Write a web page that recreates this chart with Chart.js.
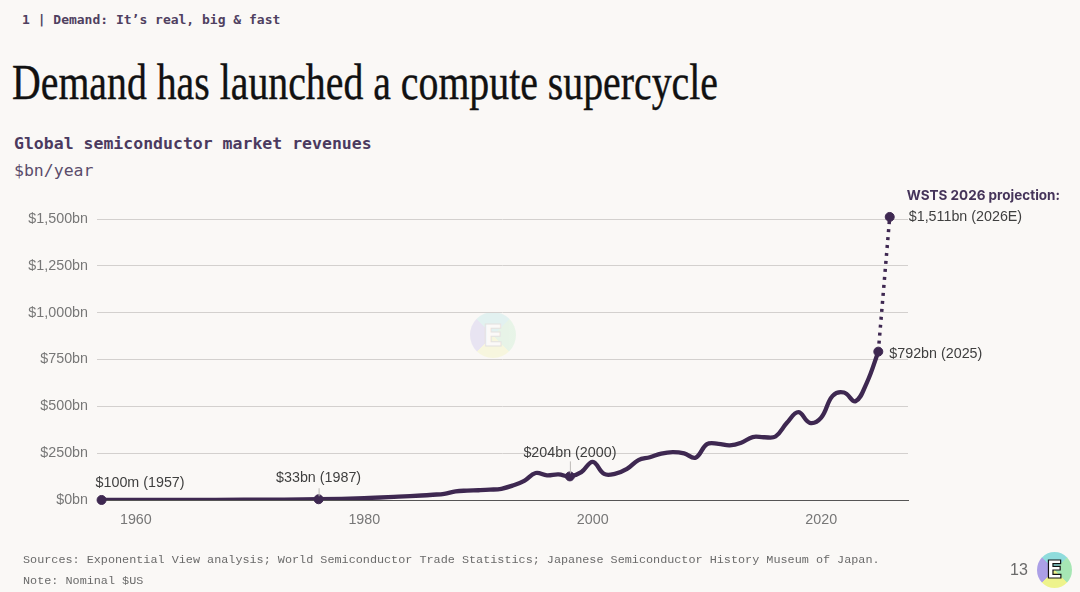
<!DOCTYPE html>
<html>
<head>
<meta charset="utf-8">
<script src="https://cdn.jsdelivr.net/npm/chart.js@4.4.1/dist/chart.umd.min.js"></script>
<style>
  html, body { margin: 0; padding: 0; }
  body { width: 1080px; height: 592px; background: #faf8f6; position: relative; overflow: hidden; }
  .abs { position: absolute; white-space: nowrap; }
  #kicker { left: 22px; top: 12px; font: bold 13px "DejaVu Sans Mono", monospace; color: #4f4060; }
  #title { left: 12px; top: 53px; font: 51px "Liberation Serif", serif; color: #111;
    -webkit-text-stroke: 0.4px #111; transform-origin: 0 0; }
  #subtitle { left: 14px; top: 134px; font: bold 16.5px "DejaVu Sans Mono", monospace; color: #4b3a5f; }
  #unit { left: 14px; top: 161px; font: 16.5px "DejaVu Sans Mono", monospace; color: #5b4c6b; }
  #sources { left: 23px; top: 553px; font: 11.8px "Liberation Mono", monospace; color: #6a6a6a; }
  #note { left: 23px; top: 574px; font: 11.8px "Liberation Mono", monospace; color: #6a6a6a; }
  #page { left: 1010px; top: 561px; font: 16px "Liberation Sans", sans-serif; color: #6a6a6a; }
  .logo { border-radius: 50%;
    background: conic-gradient(from -45deg, #8fdcdc 0 25%, #a6e6b4 25% 50%, #eef38c 50% 75%, #ab9fe6 75% 100%); }
  .logo span { position: absolute; left: 0; right: 0; text-align: center; font-weight: bold; color: #fff;
    -webkit-text-stroke: 1.2px #111; font-family: "DejaVu Sans", sans-serif; }
  #logo { left: 1037px; top: 552px; width: 35px; height: 36px; }
  #logo span { top: 4px; font-size: 24px; }
  #mark { left: 470px; top: 312px; width: 46px; height: 46px; opacity: 0.22; }
  #mark span { top: 6px; font-size: 30px; -webkit-text-stroke: 1px #999; }
  #chart { position: absolute; left: 0; top: 0; }
</style>
</head>
<body>
<div class="abs" id="kicker">1 | Demand: It’s real, big &amp; fast</div>
<div class="abs" id="title">Demand has launched a compute supercycle</div>
<div class="abs" id="subtitle">Global semiconductor market revenues</div>
<div class="abs" id="unit">$bn/year</div>
<div class="abs logo" id="mark"><span>E</span></div>
<canvas id="chart" width="1080" height="592"></canvas>
<div class="abs" id="sources">Sources: Exponential View analysis; World Semiconductor Trade Statistics; Japanese Semiconductor History Museum of Japan.</div>
<div class="abs" id="note">Note: Nominal $US</div>
<div class="abs" id="page">13</div>
<div class="abs logo" id="logo"><span>E</span></div>

<script>
// revenue history, $bn/year
const years = [1957, 1962, 1967, 1972, 1976, 1980, 1983, 1985, 1986, 1987, 1988, 1989, 1990,
  1991, 1992, 1993, 1994, 1995, 1996, 1997, 1998, 1999, 2000, 2001, 2002, 2003, 2004, 2005,
  2006, 2007, 2008, 2009, 2010, 2011, 2012, 2013, 2014, 2015, 2016, 2017, 2018, 2019, 2020,
  2021, 2022, 2023, 2024, 2025];
const revenues = [0.1, 0.5, 1, 2, 4, 10, 18, 24, 28, 33, 46, 50, 52,
  55, 60, 77, 102, 144, 132, 137, 126, 149, 204, 139, 141, 166, 213, 228,
  248, 256, 249, 226, 298, 300, 292, 306, 336, 335, 339, 412, 469, 412, 440,
  556, 574, 527, 627, 792];

// WSTS projection
const projYears = [2025, 2026];
const projValues = [792, 1511];

// highlighted points
const annoYears = [1957, 1976, 1998, 2025, 2026];
const annoValues = [0.1, 4, 126, 792, 1511];
const annoLabels = ['$100m (1957)', '$33bn (1987)', '$204bn (2000)', '$792bn (2025)', '$1,511bn (2026E)'];
const projHeading = 'WSTS 2026 projection:';

const xTicks = [1960, 1980, 2000, 2020];
const yTicks = [0, 250, 500, 750, 1000, 1250, 1500];

const lineColor = '#3e2851';

// squeeze the title to the width it has in the slide
const title = document.getElementById('title');
title.style.transform = 'scaleX(' + (706 / title.offsetWidth) + ')';

// label placement for each highlighted point: dx, dy, align, connector
const labelStyle = [
  { dx: -6, dy: -17, align: 'left' },
  { dx: 0, dy: -21, align: 'center', stem: [-11, -3] },
  { dx: 0, dy: -23, align: 'center', stem: [-15, -3] },
  { dx: 11, dy: 2, align: 'left' },
  { dx: 19, dy: 0, align: 'left' }
];

const annotations = {
  id: 'annotations',
  afterDatasetsDraw(chart) {
    const { ctx, scales } = chart;
    ctx.save();
    ctx.textBaseline = 'middle';
    annoYears.forEach((yr, i) => {
      const px = scales.x.getPixelForValue(yr);
      const py = scales.y.getPixelForValue(annoValues[i]);
      const st = labelStyle[i];
      if (st.stem) {
        ctx.strokeStyle = '#bdbab8';
        ctx.lineWidth = 1;
        ctx.beginPath();
        ctx.moveTo(px + 0.5, py + st.stem[0]);
        ctx.lineTo(px + 0.5, py + st.stem[1]);
        ctx.stroke();
      }
      ctx.font = '14.3px "Liberation Sans", Arial, sans-serif';
      ctx.fillStyle = '#3f3f3f';
      ctx.textAlign = st.align;
      ctx.fillText(annoLabels[i], px + st.dx, py + st.dy);
    });
    // heading above the projection
    const hx = scales.x.getPixelForValue(projYears[1]);
    const hy = scales.y.getPixelForValue(projValues[1]);
    ctx.font = 'bold 13.5px Inter, "DejaVu Sans", sans-serif';
    ctx.fillStyle = '#45345a';
    ctx.textAlign = 'left';
    ctx.fillText(projHeading, hx + 17, hy - 21);
    ctx.restore();
  }
};

new Chart(document.getElementById('chart'), {
  type: 'line',
  data: {
    datasets: [
      {
        data: years.map((x, i) => ({ x: x, y: revenues[i] })),
        borderColor: lineColor,
        borderWidth: 4.3,
        borderCapStyle: 'round',
        borderJoinStyle: 'round',
        pointRadius: 0,
        tension: 0.4
      },
      {
        data: projYears.map((x, i) => ({ x: x, y: projValues[i] })),
        borderColor: lineColor,
        borderWidth: 3.5,
        borderDash: [3, 5],
        pointRadius: 0,
        clip: false
      },
      {
        type: 'scatter',
        data: annoYears.map((x, i) => ({ x: x, y: annoValues[i] })),
        backgroundColor: lineColor,
        borderColor: lineColor,
        pointRadius: 4.5,
        showLine: false,
        clip: false
      }
    ]
  },
  options: {
    responsive: false,
    animation: false,
    layout: { padding: { left: 0, top: 219, right: 172, bottom: 61 } },
    plugins: { legend: { display: false }, tooltip: { enabled: false } },
    scales: {
      x: {
        type: 'linear',
        min: 1956.6,
        max: 2027.6,
        afterBuildTicks: s => { s.ticks = xTicks.map(v => ({ value: v })); },
        afterFit: s => { s.height = 31; },
        grid: { display: false },
        border: { color: '#555', width: 1 },
        ticks: {
          color: '#777',
          font: { family: '"Liberation Sans", Arial, sans-serif', size: 14.3 },
          padding: 3,
          callback: v => String(v)
        }
      },
      y: {
        min: 0,
        max: 1500,
        afterBuildTicks: s => { s.ticks = yTicks.map(v => ({ value: v })); },
        afterFit: s => { s.width = 97; },
        grid: { color: '#d3d0ce', lineWidth: 1, drawTicks: false },
        border: { display: false },
        ticks: {
          color: '#777',
          font: { family: '"Liberation Sans", Arial, sans-serif', size: 14.3 },
          padding: 9,
          callback: v => '$' + v.toLocaleString('en-US') + 'bn'
        }
      }
    }
  },
  plugins: [annotations]
});
</script>
</body>
</html>
